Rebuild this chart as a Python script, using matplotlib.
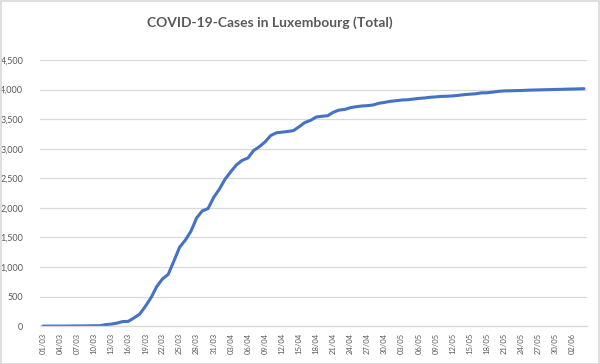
import numpy as np
import pandas as pd
import matplotlib
matplotlib.use("Agg")
import matplotlib.pyplot as plt
from matplotlib.ticker import FuncFormatter

# ---------- Daten ----------
# kumulierte Fälle, 01/03 bis 04/06
dates = pd.date_range("2020-03-01", "2020-06-04", freq="D")

cases_mar = [1, 1, 1, 1, 2, 3, 4, 4, 5, 7, 7, 26, 34, 51, 77, 81, 140, 203, 335, 484,
             670, 798, 875, 1099, 1333, 1453, 1605, 1831, 1950, 1988, 2178]
cases_apr = [2319, 2487, 2612, 2729, 2804, 2843, 2970, 3034, 3115, 3223, 3270, 3281,
             3292, 3307, 3373, 3444, 3480, 3537, 3550, 3558, 3618, 3654, 3665, 3695,
             3711, 3723, 3729, 3741, 3769, 3784]
cases_may = [3802, 3812, 3824, 3828, 3840, 3851, 3859, 3871, 3877, 3886, 3888, 3894,
             3904, 3915, 3923, 3930, 3945, 3947, 3958, 3971, 3978, 3980, 3983, 3985,
             3990, 3993, 3995, 3998, 4000, 4003, 4005]
cases_jun = [4008, 4010, 4013, 4016]

cases = np.array(cases_mar + cases_apr + cases_may + cases_jun)

title = "COVID-19-Cases in Luxembourg (Total)"
grey = "#595959"
line_grey = "#D9D9D9"

# ---------- Plot ----------
plt.rcParams["font.family"] = ["Lato", "DejaVu Sans"]

fig = plt.figure(figsize=(6, 3.64), dpi=100)
ax = fig.add_axes([0.0667, 0.104, 0.9113, 0.731])

x = np.arange(len(cases))
ax.plot(x, cases, color="#4472C4", linewidth=2.2, solid_capstyle="round")

ax.set_xlim(-0.5, len(cases) - 0.5)
ax.set_ylim(0, 4500)
ax.set_yticks(np.arange(0, 4501, 500))
ax.yaxis.set_major_formatter(FuncFormatter(lambda v, p: f"{int(v):,}"))

ticks = x[::3]
ax.set_xticks(ticks)
ax.set_xticklabels([dates[i].strftime("%d/%m") for i in ticks], rotation=90)

ax.grid(axis="y", color=line_grey, linewidth=0.9)
ax.set_axisbelow(True)
for s in ["top", "right", "left"]:
    ax.spines[s].set_visible(False)
ax.spines["bottom"].set_color(line_grey)
ax.spines["bottom"].set_linewidth(0.9)

ax.tick_params(axis="y", length=0, pad=12, labelsize=6.5, labelcolor=grey)
ax.tick_params(axis="x", length=0, pad=5, labelsize=5.5, labelcolor=grey)

fig.text(0.45, 0.937, title, ha="center", va="center", fontsize=10,
         fontweight="bold", color=grey)

# Rahmen um das Diagramm
fig.patches.append(plt.Rectangle((0.001, 0.001), 0.997, 0.997, transform=fig.transFigure,
                                 fill=False, edgecolor=line_grey, linewidth=1.2))

fig.savefig("out.png", dpi=100)
